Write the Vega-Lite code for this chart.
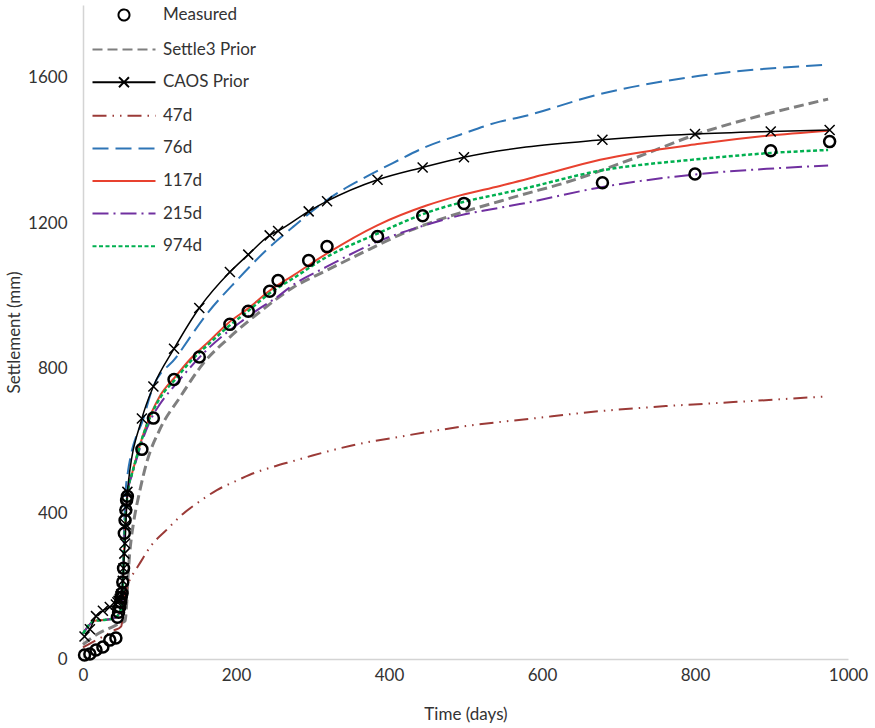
{
  "$schema": "https://vega.github.io/schema/vega-lite/v6.json",
  "width": 765,
  "height": 654,
  "autosize": "none",
  "padding": {"left": 83, "top": 5, "right": 27, "bottom": 69},
  "background": "white",
  "config": {
    "view": {"stroke": null},
    "axis": {"domainColor": "#d4d4d4", "domainWidth": 1.5, "ticks": false, "grid": false, "labelFont": "Lato", "labelFontSize": 17, "labelColor": "#333333", "titleFont": "Lato", "titleFontSize": 17, "titleFontWeight": "normal", "titleColor": "#333333", "labelFlush": false, "format": "d"},
    "legend": {"orient": "none", "legendX": 30, "legendY": -1, "symbolSize": 400, "symbolStrokeWidth": 2, "labelFont": "Lato", "labelFontSize": 17, "labelColor": "#333333", "rowPadding": 13.6, "labelOffset": 28, "padding": 0}
  },
  "data": {"values": [
    {"series":"Measured","t":2,"s":11},{"series":"Measured","t":9,"s":14},{"series":"Measured","t":17,"s":25},{"series":"Measured","t":26,"s":33},{"series":"Measured","t":35,"s":52},{"series":"Measured","t":43,"s":58},{"series":"Measured","t":45,"s":115},{"series":"Measured","t":46.5,"s":129},{"series":"Measured","t":48,"s":143},{"series":"Measured","t":49,"s":157},{"series":"Measured","t":50,"s":170},{"series":"Measured","t":51,"s":181},{"series":"Measured","t":52,"s":212},{"series":"Measured","t":53,"s":250},{"series":"Measured","t":54,"s":346},{"series":"Measured","t":55,"s":382},{"series":"Measured","t":56,"s":410},{"series":"Measured","t":57,"s":437},{"series":"Measured","t":58,"s":448},{"series":"Measured","t":77,"s":577},{"series":"Measured","t":92,"s":663},{"series":"Measured","t":119,"s":769},{"series":"Measured","t":152,"s":831},{"series":"Measured","t":192,"s":921},{"series":"Measured","t":216,"s":957},{"series":"Measured","t":244,"s":1012},{"series":"Measured","t":255,"s":1042},{"series":"Measured","t":295,"s":1097},{"series":"Measured","t":319,"s":1135},{"series":"Measured","t":385,"s":1163},{"series":"Measured","t":444,"s":1220},{"series":"Measured","t":498,"s":1254},{"series":"Measured","t":679,"s":1311},{"series":"Measured","t":800,"s":1335},{"series":"Measured","t":899,"s":1399},{"series":"Measured","t":976,"s":1424},
    {"series":"Settle3 Prior","t":0,"s":40},{"series":"Settle3 Prior","t":20,"s":70},{"series":"Settle3 Prior","t":40,"s":90},{"series":"Settle3 Prior","t":50,"s":100},{"series":"Settle3 Prior","t":55,"s":105},{"series":"Settle3 Prior","t":57,"s":150},{"series":"Settle3 Prior","t":59,"s":230},{"series":"Settle3 Prior","t":61,"s":290},{"series":"Settle3 Prior","t":63,"s":330},{"series":"Settle3 Prior","t":66,"s":374},{"series":"Settle3 Prior","t":74.5,"s":465},{"series":"Settle3 Prior","t":83,"s":539},{"series":"Settle3 Prior","t":100,"s":630},{"series":"Settle3 Prior","t":127,"s":721},{"series":"Settle3 Prior","t":157,"s":813},{"series":"Settle3 Prior","t":192,"s":886},{"series":"Settle3 Prior","t":231,"s":955},{"series":"Settle3 Prior","t":275,"s":1023},{"series":"Settle3 Prior","t":318,"s":1069},{"series":"Settle3 Prior","t":362,"s":1115},{"series":"Settle3 Prior","t":427,"s":1179},{"series":"Settle3 Prior","t":493,"s":1228},{"series":"Settle3 Prior","t":545,"s":1260},{"series":"Settle3 Prior","t":571,"s":1276},{"series":"Settle3 Prior","t":632,"s":1312},{"series":"Settle3 Prior","t":719,"s":1377},{"series":"Settle3 Prior","t":806,"s":1447},{"series":"Settle3 Prior","t":894,"s":1500},{"series":"Settle3 Prior","t":974,"s":1541},
    {"series":"CAOS Prior","t":2,"s":62},{"series":"CAOS Prior","t":9,"s":82},{"series":"CAOS Prior","t":17,"s":118},{"series":"CAOS Prior","t":26,"s":133},{"series":"CAOS Prior","t":35,"s":143},{"series":"CAOS Prior","t":43,"s":150},{"series":"CAOS Prior","t":45,"s":156},{"series":"CAOS Prior","t":46.5,"s":160},{"series":"CAOS Prior","t":48,"s":166},{"series":"CAOS Prior","t":49,"s":172},{"series":"CAOS Prior","t":50,"s":178},{"series":"CAOS Prior","t":51,"s":190},{"series":"CAOS Prior","t":52,"s":215},{"series":"CAOS Prior","t":53,"s":250},{"series":"CAOS Prior","t":54,"s":290},{"series":"CAOS Prior","t":55,"s":318},{"series":"CAOS Prior","t":56,"s":370},{"series":"CAOS Prior","t":57,"s":420},{"series":"CAOS Prior","t":58,"s":460},{"series":"CAOS Prior","t":77,"s":662},{"series":"CAOS Prior","t":92,"s":750},{"series":"CAOS Prior","t":119,"s":854},{"series":"CAOS Prior","t":152,"s":966},{"series":"CAOS Prior","t":192,"s":1065},{"series":"CAOS Prior","t":216,"s":1113},{"series":"CAOS Prior","t":244,"s":1166},{"series":"CAOS Prior","t":255,"s":1178},{"series":"CAOS Prior","t":295,"s":1232},{"series":"CAOS Prior","t":319,"s":1260},{"series":"CAOS Prior","t":385,"s":1319},{"series":"CAOS Prior","t":444,"s":1353},{"series":"CAOS Prior","t":498,"s":1381},{"series":"CAOS Prior","t":679,"s":1429},{"series":"CAOS Prior","t":800,"s":1445},{"series":"CAOS Prior","t":899,"s":1452},{"series":"CAOS Prior","t":976,"s":1456},
    {"series":"47d","t":0,"s":32},{"series":"47d","t":20,"s":55},{"series":"47d","t":40,"s":78},{"series":"47d","t":50,"s":90},{"series":"47d","t":52,"s":120},{"series":"47d","t":55,"s":175},{"series":"47d","t":58,"s":200},{"series":"47d","t":62,"s":222},{"series":"47d","t":68,"s":242},{"series":"47d","t":75,"s":266},{"series":"47d","t":88,"s":309},{"series":"47d","t":110,"s":357},{"series":"47d","t":131,"s":400},{"series":"47d","t":150,"s":430},{"series":"47d","t":175,"s":465},{"series":"47d","t":200,"s":490},{"series":"47d","t":218,"s":507},{"series":"47d","t":250,"s":530},{"series":"47d","t":275,"s":545},{"series":"47d","t":300,"s":560},{"series":"47d","t":350,"s":587},{"series":"47d","t":420,"s":614},{"series":"47d","t":500,"s":641},{"series":"47d","t":588,"s":662},{"series":"47d","t":675,"s":682},{"series":"47d","t":762,"s":696},{"series":"47d","t":850,"s":707},{"series":"47d","t":974,"s":723},
    {"series":"76d","t":0,"s":70},{"series":"76d","t":15,"s":105},{"series":"76d","t":30,"s":108},{"series":"76d","t":40,"s":112},{"series":"76d","t":46,"s":121},{"series":"76d","t":50,"s":150},{"series":"76d","t":52,"s":230},{"series":"76d","t":54,"s":380},{"series":"76d","t":56,"s":470},{"series":"76d","t":58,"s":505},{"series":"76d","t":62,"s":555},{"series":"76d","t":66,"s":590},{"series":"76d","t":70,"s":615},{"series":"76d","t":77,"s":650},{"series":"76d","t":90,"s":740},{"series":"76d","t":122,"s":831},{"series":"76d","t":162,"s":950},{"series":"76d","t":201,"s":1042},{"series":"76d","t":240,"s":1126},{"series":"76d","t":275,"s":1190},{"series":"76d","t":318,"s":1262},{"series":"76d","t":340,"s":1292},{"series":"76d","t":362,"s":1318},{"series":"76d","t":405,"s":1365},{"series":"76d","t":449,"s":1410},{"series":"76d","t":493,"s":1443},{"series":"76d","t":545,"s":1479},{"series":"76d","t":571,"s":1491},{"series":"76d","t":676,"s":1555},{"series":"76d","t":806,"s":1605},{"series":"76d","t":974,"s":1636},
    {"series":"117d","t":0,"s":70},{"series":"117d","t":15,"s":105},{"series":"117d","t":30,"s":108},{"series":"117d","t":40,"s":112},{"series":"117d","t":46,"s":121},{"series":"117d","t":50,"s":140},{"series":"117d","t":52,"s":200},{"series":"117d","t":54,"s":320},{"series":"117d","t":56,"s":400},{"series":"117d","t":58,"s":450},{"series":"117d","t":60,"s":480},{"series":"117d","t":64,"s":510},{"series":"117d","t":70,"s":556},{"series":"117d","t":79,"s":620},{"series":"117d","t":90,"s":680},{"series":"117d","t":100,"s":722},{"series":"117d","t":122,"s":780},{"series":"117d","t":140,"s":825},{"series":"117d","t":166,"s":877},{"series":"117d","t":190,"s":925},{"series":"117d","t":216,"s":965},{"series":"117d","t":243,"s":1012},{"series":"117d","t":275,"s":1056},{"series":"117d","t":318,"s":1115},{"series":"117d","t":384,"s":1193},{"series":"117d","t":449,"s":1248},{"series":"117d","t":493,"s":1276},{"series":"117d","t":545,"s":1302},{"series":"117d","t":600,"s":1332},{"series":"117d","t":676,"s":1374},{"series":"117d","t":806,"s":1418},{"series":"117d","t":894,"s":1440},{"series":"117d","t":974,"s":1454},
    {"series":"215d","t":0,"s":70},{"series":"215d","t":15,"s":105},{"series":"215d","t":30,"s":108},{"series":"215d","t":40,"s":112},{"series":"215d","t":46,"s":121},{"series":"215d","t":50,"s":140},{"series":"215d","t":52,"s":200},{"series":"215d","t":54,"s":320},{"series":"215d","t":56,"s":400},{"series":"215d","t":58,"s":450},{"series":"215d","t":60,"s":478},{"series":"215d","t":64,"s":506},{"series":"215d","t":70,"s":550},{"series":"215d","t":79,"s":610},{"series":"215d","t":90,"s":665},{"series":"215d","t":100,"s":700},{"series":"215d","t":122,"s":758},{"series":"215d","t":166,"s":859},{"series":"215d","t":209,"s":932},{"series":"215d","t":231,"s":965},{"series":"215d","t":253,"s":995},{"series":"215d","t":275,"s":1030},{"series":"215d","t":318,"s":1079},{"series":"215d","t":384,"s":1148},{"series":"215d","t":449,"s":1195},{"series":"215d","t":493,"s":1221},{"series":"215d","t":545,"s":1242},{"series":"215d","t":571,"s":1252},{"series":"215d","t":676,"s":1298},{"series":"215d","t":806,"s":1335},{"series":"215d","t":894,"s":1349},{"series":"215d","t":974,"s":1358},
    {"series":"974d","t":0,"s":70},{"series":"974d","t":15,"s":105},{"series":"974d","t":30,"s":108},{"series":"974d","t":40,"s":112},{"series":"974d","t":46,"s":121},{"series":"974d","t":50,"s":140},{"series":"974d","t":52,"s":200},{"series":"974d","t":54,"s":320},{"series":"974d","t":56,"s":400},{"series":"974d","t":58,"s":450},{"series":"974d","t":60,"s":480},{"series":"974d","t":64,"s":510},{"series":"974d","t":70,"s":555},{"series":"974d","t":79,"s":618},{"series":"974d","t":90,"s":676},{"series":"974d","t":100,"s":716},{"series":"974d","t":122,"s":773},{"series":"974d","t":140,"s":818},{"series":"974d","t":166,"s":870},{"series":"974d","t":190,"s":915},{"series":"974d","t":216,"s":958},{"series":"974d","t":243,"s":1005},{"series":"974d","t":275,"s":1048},{"series":"974d","t":318,"s":1106},{"series":"974d","t":384,"s":1170},{"series":"974d","t":449,"s":1228},{"series":"974d","t":497,"s":1258},{"series":"974d","t":545,"s":1280},{"series":"974d","t":571,"s":1292},{"series":"974d","t":676,"s":1344},{"series":"974d","t":806,"s":1376},{"series":"974d","t":894,"s":1392},{"series":"974d","t":974,"s":1401}
  ]},
  "encoding": {
    "x": {"field": "t", "type": "quantitative", "scale": {"domain": [0, 1000], "nice": false}, "axis": {"values": [0, 200, 400, 600, 800, 1000], "labelPadding": 8, "title": "Time (days)", "titlePadding": 23}},
    "y": {"field": "s", "type": "quantitative", "scale": {"domain": [0, 1800], "nice": false}, "axis": {"values": [0, 400, 800, 1200, 1600], "labelPadding": 16, "title": "Settlement (mm)", "titlePadding": 4}}
  },
  "layer": [
    {"transform": [{"filter": "datum.series === 'Settle3 Prior'"}], "mark": {"type": "line", "color": "#7f7f7f", "strokeWidth": 3, "strokeDash": [10, 5], "interpolate": "monotone"}},
    {"transform": [{"filter": "datum.series === '47d'"}], "mark": {"type": "line", "color": "#9b3a37", "strokeWidth": 2, "strokeDash": [14, 6, 1.5, 6, 1.5, 6], "interpolate": "monotone"}},
    {"transform": [{"filter": "datum.series === '76d'"}], "mark": {"type": "line", "color": "#2e75b6", "strokeWidth": 2, "strokeDash": [16, 7], "interpolate": "monotone"}},
    {"transform": [{"filter": "datum.series === '117d'"}], "mark": {"type": "line", "color": "#e8412f", "strokeWidth": 2, "interpolate": "monotone"}},
    {"transform": [{"filter": "datum.series === '215d'"}], "mark": {"type": "line", "color": "#7030a0", "strokeWidth": 2, "strokeDash": [16, 5, 2, 5], "interpolate": "monotone"}},
    {"transform": [{"filter": "datum.series === '974d'"}], "mark": {"type": "line", "color": "#00b050", "strokeWidth": 2.5, "strokeDash": [4, 2.5], "interpolate": "monotone"}},
    {"transform": [{"filter": "datum.series === 'CAOS Prior'"}], "mark": {"type": "line", "color": "#000000", "strokeWidth": 1.5, "interpolate": "monotone"}},
    {"transform": [{"filter": "datum.series === 'CAOS Prior'"}], "mark": {"type": "point", "shape": "M-1,-1L1,1M-1,1L1,-1", "size": 100, "filled": false, "color": "#000000", "strokeWidth": 1.5, "opacity": 1}},
    {"transform": [{"filter": "datum.series === 'Measured'"}], "mark": {"type": "point", "shape": "circle", "size": 121, "filled": false, "color": "#000000", "strokeWidth": 2.5, "opacity": 1}},
    {
      "mark": {"type": "point", "filled": false, "opacity": 0},
      "encoding": {
        "color": {"field": "series", "type": "nominal", "scale": {"domain": ["Measured", "Settle3 Prior", "CAOS Prior", "47d", "76d", "117d", "215d", "974d"], "range": ["#000000", "#7f7f7f", "#000000", "#9b3a37", "#2e75b6", "#e8412f", "#7030a0", "#00b050"]}, "legend": {"title": null}},
        "shape": {"field": "series", "type": "nominal", "scale": {"domain": ["Measured", "Settle3 Prior", "CAOS Prior", "47d", "76d", "117d", "215d", "974d"], "range": ["M0.55,0A0.55,0.55 0 1,1 -0.55,0A0.55,0.55 0 1,1 0.55,0Z", "M-3.15,0L3.15,0", "M-3.15,0L3.15,0M-0.5,-0.5L0.5,0.5M-0.5,0.5L0.5,-0.5", "M-3.15,0L3.15,0", "M-3.15,0L3.15,0", "M-3.15,0L3.15,0", "M-3.15,0L3.15,0", "M-3.15,0L3.15,0"]}, "legend": {"title": null}},
        "strokeDash": {"field": "series", "type": "nominal", "scale": {"domain": ["Measured", "Settle3 Prior", "CAOS Prior", "47d", "76d", "117d", "215d", "974d"], "range": [[1, 0], [10, 5], [1, 0], [14, 6, 1.5, 6, 1.5, 6], [16, 7], [1, 0], [16, 5, 2, 5], [4, 2.5]]}, "legend": {"title": null}}
      }
    }
  ]
}
